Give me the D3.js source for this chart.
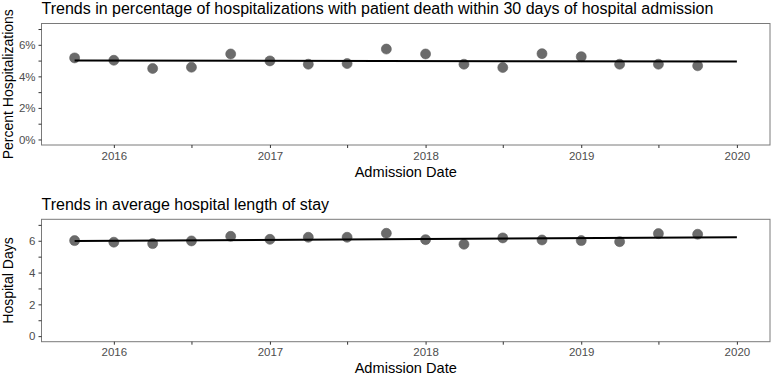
<!DOCTYPE html>
<html>
<head>
<meta charset="utf-8">
<script src="https://cdn.jsdelivr.net/npm/d3@7"></script>
<style>
  body { margin: 0; background: #fff; }
  text { font-family: "Liberation Sans", Arial, sans-serif; }
</style>
</head>
<body>
<svg width="771" height="375"></svg>
<script>
// quarterly admission dates
var quarters = ["2015-10-01","2016-01-01","2016-04-01","2016-07-01","2016-10-01",
  "2017-01-01","2017-04-01","2017-07-01","2017-10-01","2018-01-01","2018-04-01",
  "2018-07-01","2018-10-01","2019-01-01","2019-04-01","2019-07-01","2019-10-01"];
var deathPct = [5.17, 5.02, 4.50, 4.58, 5.42, 4.98, 4.77, 4.81, 5.73, 5.42, 4.77,
  4.56, 5.44, 5.25, 4.77, 4.77, 4.67];
var losDays = [6.01, 5.91, 5.82, 5.99, 6.28, 6.09, 6.22, 6.22, 6.47, 6.07, 5.78,
  6.18, 6.05, 6.01, 5.94, 6.45, 6.41];
// fitted trend, start and end
var trendDates = ["2015-10-01", "2020-01-01"];
var deathTrend = [5.00, 4.94];
var losTrend = [5.99, 6.22];
var yTicks = [0, 1, 2, 3, 4, 5, 6, 7];

var parse = d3.timeParse("%Y-%m-%d");
var svg = d3.select("svg");

var makePanel = (opts) => {
    var top = opts.top, bottom = opts.bottom;
    var left = 41.5, right = 770;

    //scales
    var d0 = parse(trendDates[0]), d1 = parse(trendDates[1]);
    var span = d1 - d0;
    var xScale = d3.scaleTime()
        .domain([new Date(+d0 - span * 0.05), new Date(+d1 + span * 0.05)])
        .range([left, right]);
    var yScale = d3.scaleLinear()
        .domain([-0.35, 7.35])
        .range([bottom, top]);

    var g = svg.append("g");

    g.append("rect")
        .attr("x", left).attr("y", top)
        .attr("width", right - left).attr("height", bottom - top)
        .attr("fill", "white");

    // points
    g.selectAll("circle")
        .data(quarters.map((q, i) => ({date: parse(q), v: opts.values[i]})))
        .enter().append("circle")
        .attr("cx", d => xScale(d.date))
        .attr("cy", d => yScale(d.v))
        .attr("r", 5)
        .attr("fill", "#6b6b6b")
        .attr("stroke", "#5f5f5f")
        .attr("stroke-width", 0.6);

    // trend line
    var line = d3.line()
        .x(d => xScale(d.date))
        .y(d => yScale(d.v));
    g.append("path")
        .datum(trendDates.map((t, i) => ({date: parse(t), v: opts.trend[i]})))
        .attr("d", line)
        .attr("fill", "none")
        .attr("stroke", "black")
        .attr("stroke-width", 2);

    g.append("rect")
        .attr("x", left).attr("y", top)
        .attr("width", right - left).attr("height", bottom - top)
        .attr("fill", "none")
        .attr("stroke", "#7a7a7a")
        .attr("stroke-width", 1);

    // axes
    var xTicks = d3.timeMonth.every(6).range(parse("2016-01-01"), parse("2020-01-02"));
    var xAxis = d3.axisBottom(xScale)
        .tickValues(xTicks)
        .tickSize(3)
        .tickPadding(3.5)
        .tickFormat(d => d.getMonth() === 0 ? d3.timeFormat("%Y")(d) : "");
    var yAxis = d3.axisLeft(yScale)
        .tickValues(yTicks)
        .tickSize(3)
        .tickPadding(3)
        .tickFormat(d => d % 2 === 0 ? opts.fmt(d) : "");

    var gx = g.append("g")
        .attr("transform", "translate(0," + bottom + ")")
        .call(xAxis);
    var gy = g.append("g")
        .attr("transform", "translate(" + left + ",0)")
        .call(yAxis);
    [gx, gy].forEach(a => {
        a.select(".domain").remove();
        a.selectAll(".tick line").attr("stroke", "#333");
        a.selectAll(".tick text")
            .attr("fill", "#4d4d4d")
            .style("font-size", "11.5px")
            .style("font-family", "Liberation Sans, Arial, sans-serif");
    });

    // titles
    g.append("text")
        .attr("x", left).attr("y", top - 9.5)
        .style("font-size", "16px")
        .attr("fill", "black")
        .text(opts.title);
    g.append("text")
        .attr("x", (left + right) / 2).attr("y", bottom + 31.6)
        .attr("text-anchor", "middle")
        .style("font-size", "14.6px")
        .text("Admission Date");
    g.append("text")
        .attr("transform", "translate(12.5," + (top + bottom) / 2 + ") rotate(-90)")
        .attr("text-anchor", "middle")
        .style("font-size", "14px")
        .text(opts.ylab);
};

makePanel({
    top: 23.5, bottom: 145,
    values: deathPct, trend: deathTrend,
    fmt: d => d + "%",
    title: "Trends in percentage of hospitalizations with patient death within 30 days of hospital admission",
    ylab: "Percent Hospitalizations"
});
makePanel({
    top: 219.3, bottom: 341.7,
    values: losDays, trend: losTrend,
    fmt: d => d,
    title: "Trends in average hospital length of stay",
    ylab: "Hospital Days"
});
</script>
</body>
</html>
